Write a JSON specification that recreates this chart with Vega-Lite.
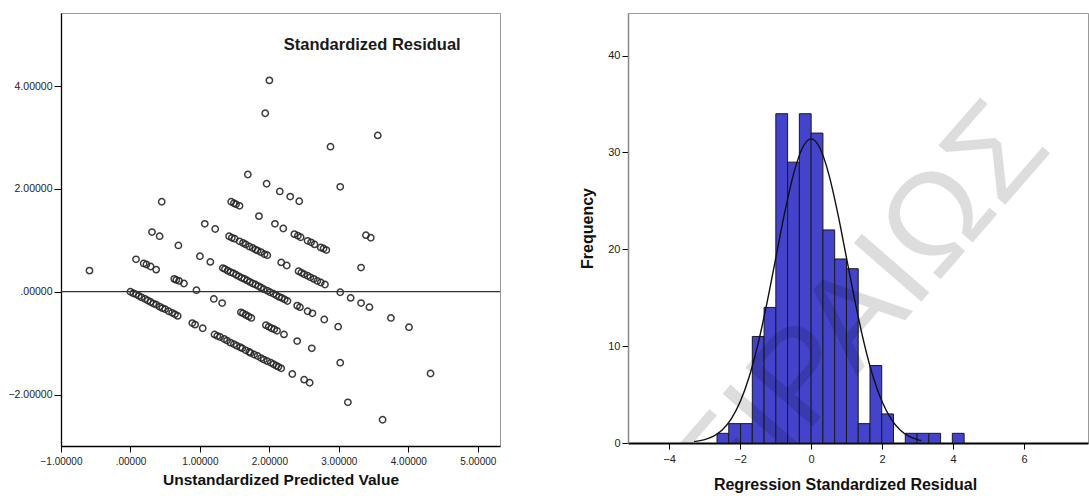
{
  "$schema": "https://vega.github.io/schema/vega-lite/v6.json",
  "padding": {"left": 0, "top": 12, "right": 0, "bottom": 0},
  "autosize": {"type": "pad"},
  "background": "white",
  "bounds": "flush",
  "spacing": 128,
  "config": {
    "font": "Liberation Sans",
    "view": {"stroke": "#999", "strokeWidth": 1},
    "axis": {"grid": false, "labelFont": "Liberation Sans", "titleFont": "Liberation Sans", "labelColor": "#222", "titleColor": "#111", "domainColor": "#000", "tickColor": "#000", "labelFlush": false, "labelOverlap": false}
  },
  "hconcat": [
    {
      "width": 439,
      "height": 433,
      "layer": [
        {
          "data": {"values": [
            {"pred": -0.59, "res": 0.41}, {"pred": 0.00, "res": 0.00}, {"pred": 0.04, "res": -0.03}, {"pred": 0.08, "res": -0.05}, {"pred": 0.12, "res": -0.08}, {"pred": 0.16, "res": -0.11}, {"pred": 0.21, "res": -0.14}, {"pred": 0.25, "res": -0.17}, {"pred": 0.29, "res": -0.20}, {"pred": 0.33, "res": -0.23}, {"pred": 0.37, "res": -0.25}, {"pred": 0.42, "res": -0.29}, {"pred": 0.46, "res": -0.32}, {"pred": 0.50, "res": -0.34}, {"pred": 0.55, "res": -0.38}, {"pred": 0.60, "res": -0.41}, {"pred": 0.64, "res": -0.44}, {"pred": 0.68, "res": -0.47}, {"pred": 0.89, "res": -0.61}, {"pred": 0.93, "res": -0.64}, {"pred": 1.04, "res": -0.71}, {"pred": 1.21, "res": -0.83}, {"pred": 1.25, "res": -0.86}, {"pred": 1.29, "res": -0.88}, {"pred": 1.35, "res": -0.92}, {"pred": 1.39, "res": -0.95}, {"pred": 1.44, "res": -0.99}, {"pred": 1.49, "res": -1.02}, {"pred": 1.53, "res": -1.05}, {"pred": 1.58, "res": -1.08}, {"pred": 1.61, "res": -1.10}, {"pred": 1.66, "res": -1.14}, {"pred": 1.71, "res": -1.17}, {"pred": 1.73, "res": -1.19}, {"pred": 1.78, "res": -1.22}, {"pred": 1.83, "res": -1.25}, {"pred": 1.88, "res": -1.29}, {"pred": 1.92, "res": -1.32}, {"pred": 1.97, "res": -1.35}, {"pred": 2.02, "res": -1.38}, {"pred": 2.06, "res": -1.41}, {"pred": 2.10, "res": -1.44}, {"pred": 2.13, "res": -1.46}, {"pred": 2.17, "res": -1.49}, {"pred": 2.33, "res": -1.60}, {"pred": 2.50, "res": -1.71}, {"pred": 2.58, "res": -1.77}, {"pred": 3.13, "res": -2.15}, {"pred": 3.63, "res": -2.49},
            {"pred": 0.08, "res": 0.63}, {"pred": 0.19, "res": 0.55}, {"pred": 0.23, "res": 0.53}, {"pred": 0.29, "res": 0.49}, {"pred": 0.37, "res": 0.43}, {"pred": 0.63, "res": 0.25}, {"pred": 0.66, "res": 0.23}, {"pred": 0.70, "res": 0.21}, {"pred": 0.77, "res": 0.16}, {"pred": 0.95, "res": 0.03}, {"pred": 1.20, "res": -0.14}, {"pred": 1.32, "res": -0.22}, {"pred": 1.59, "res": -0.40}, {"pred": 1.62, "res": -0.42}, {"pred": 1.66, "res": -0.45}, {"pred": 1.70, "res": -0.48}, {"pred": 1.74, "res": -0.51}, {"pred": 1.95, "res": -0.65}, {"pred": 1.99, "res": -0.68}, {"pred": 2.03, "res": -0.71}, {"pred": 2.07, "res": -0.73}, {"pred": 2.11, "res": -0.76}, {"pred": 2.21, "res": -0.83}, {"pred": 2.40, "res": -0.96}, {"pred": 2.61, "res": -1.10}, {"pred": 3.02, "res": -1.38},
            {"pred": 0.31, "res": 1.16}, {"pred": 0.42, "res": 1.08}, {"pred": 0.69, "res": 0.90}, {"pred": 1.00, "res": 0.69}, {"pred": 1.15, "res": 0.58}, {"pred": 1.33, "res": 0.46}, {"pred": 1.36, "res": 0.44}, {"pred": 1.40, "res": 0.41}, {"pred": 1.44, "res": 0.38}, {"pred": 1.48, "res": 0.36}, {"pred": 1.52, "res": 0.33}, {"pred": 1.56, "res": 0.30}, {"pred": 1.60, "res": 0.27}, {"pred": 1.64, "res": 0.25}, {"pred": 1.68, "res": 0.22}, {"pred": 1.72, "res": 0.19}, {"pred": 1.76, "res": 0.16}, {"pred": 1.80, "res": 0.14}, {"pred": 1.84, "res": 0.11}, {"pred": 1.88, "res": 0.08}, {"pred": 1.92, "res": 0.05}, {"pred": 1.97, "res": 0.02}, {"pred": 2.01, "res": -0.01}, {"pred": 2.06, "res": -0.04}, {"pred": 2.10, "res": -0.07}, {"pred": 2.14, "res": -0.10}, {"pred": 2.18, "res": -0.12}, {"pred": 2.22, "res": -0.15}, {"pred": 2.26, "res": -0.18}, {"pred": 2.40, "res": -0.27}, {"pred": 2.44, "res": -0.30}, {"pred": 2.55, "res": -0.38}, {"pred": 2.62, "res": -0.42}, {"pred": 2.79, "res": -0.54}, {"pred": 2.99, "res": -0.68}, {"pred": 4.32, "res": -1.59},
            {"pred": 0.45, "res": 1.75}, {"pred": 1.07, "res": 1.32}, {"pred": 1.22, "res": 1.22}, {"pred": 1.42, "res": 1.08}, {"pred": 1.46, "res": 1.05}, {"pred": 1.50, "res": 1.03}, {"pred": 1.57, "res": 0.98}, {"pred": 1.62, "res": 0.95}, {"pred": 1.66, "res": 0.92}, {"pred": 1.71, "res": 0.88}, {"pred": 1.76, "res": 0.85}, {"pred": 1.80, "res": 0.82}, {"pred": 1.83, "res": 0.80}, {"pred": 1.88, "res": 0.77}, {"pred": 1.93, "res": 0.73}, {"pred": 1.97, "res": 0.71}, {"pred": 2.17, "res": 0.57}, {"pred": 2.25, "res": 0.51}, {"pred": 2.42, "res": 0.40}, {"pred": 2.46, "res": 0.37}, {"pred": 2.50, "res": 0.34}, {"pred": 2.55, "res": 0.31}, {"pred": 2.59, "res": 0.28}, {"pred": 2.64, "res": 0.25}, {"pred": 2.69, "res": 0.21}, {"pred": 2.74, "res": 0.18}, {"pred": 2.80, "res": 0.14}, {"pred": 3.02, "res": -0.01}, {"pred": 3.17, "res": -0.12}, {"pred": 3.32, "res": -0.22}, {"pred": 3.44, "res": -0.30}, {"pred": 3.75, "res": -0.51}, {"pred": 4.01, "res": -0.69},
            {"pred": 1.45, "res": 1.75}, {"pred": 1.49, "res": 1.72}, {"pred": 1.52, "res": 1.70}, {"pred": 1.57, "res": 1.67}, {"pred": 1.85, "res": 1.47}, {"pred": 2.08, "res": 1.32}, {"pred": 2.20, "res": 1.23}, {"pred": 2.36, "res": 1.12}, {"pred": 2.41, "res": 1.09}, {"pred": 2.45, "res": 1.06}, {"pred": 2.55, "res": 0.99}, {"pred": 2.60, "res": 0.96}, {"pred": 2.65, "res": 0.92}, {"pred": 2.74, "res": 0.86}, {"pred": 2.78, "res": 0.84}, {"pred": 2.82, "res": 0.81}, {"pred": 3.32, "res": 0.47},
            {"pred": 1.69, "res": 2.28}, {"pred": 1.96, "res": 2.10}, {"pred": 2.15, "res": 1.95}, {"pred": 2.30, "res": 1.85}, {"pred": 2.43, "res": 1.76}, {"pred": 3.39, "res": 1.10}, {"pred": 3.46, "res": 1.05},
            {"pred": 3.02, "res": 2.04},
            {"pred": 1.94, "res": 3.47}, {"pred": 2.88, "res": 2.82},
            {"pred": 2.00, "res": 4.11}, {"pred": 3.56, "res": 3.04}
          ]},
          "mark": {"type": "point", "shape": "circle", "filled": false, "size": 40, "strokeWidth": 1.5, "color": "#262626", "opacity": 0.9},
          "encoding": {
            "x": {"field": "pred", "type": "quantitative", "title": "Unstandardized Predicted Value",
                  "scale": {"domain": [-1, 5.32], "nice": false, "zero": false},
                  "axis": {"values": [-1, 0, 1, 2, 3, 4, 5], "labelExpr": "datum.value == 0 ? '.00000' : format(datum.value, '.5f')", "tickSize": 6, "labelFontSize": 10, "labelPadding": 4, "titleFontSize": 15.5, "titleFontWeight": "bold", "titlePadding": 6, "domainWidth": 1.3}},
            "y": {"field": "res", "type": "quantitative", "title": null,
                  "scale": {"domain": [-3.0, 5.42], "nice": false, "zero": false},
                  "axis": {"values": [-2, 0, 2, 4], "labelExpr": "datum.value == 0 ? '.00000' : format(datum.value, '.5f')", "tickSize": 7, "labelFontSize": 10.5, "labelPadding": 2, "minExtent": 60, "domainWidth": 1.3}}
          }
        },
        {
          "data": {"values": [{}]},
          "mark": {"type": "rule", "color": "#333", "strokeWidth": 1.2},
          "encoding": {"y": {"datum": 0, "type": "quantitative"}}
        },
        {
          "data": {"values": [{}]},
          "mark": {"type": "text", "text": "Standardized Residual", "fontSize": 16.5, "fontWeight": "bold", "font": "Liberation Sans", "color": "#1a1a1a", "align": "center", "baseline": "middle"},
          "encoding": {"x": {"datum": 3.48, "type": "quantitative"}, "y": {"datum": 4.80, "type": "quantitative"}}
        }
      ]
    },
    {
      "width": 460,
      "height": 430,
      "layer": [
        {
          "data": {"values": [
            {"lo": -2.652, "hi": -2.321, "n": 1}, {"lo": -2.321, "hi": -1.989, "n": 2}, {"lo": -1.989, "hi": -1.658, "n": 2}, {"lo": -1.658, "hi": -1.326, "n": 11}, {"lo": -1.326, "hi": -0.995, "n": 14}, {"lo": -0.995, "hi": -0.663, "n": 34}, {"lo": -0.663, "hi": -0.332, "n": 29}, {"lo": -0.332, "hi": 0.0, "n": 34}, {"lo": 0.0, "hi": 0.332, "n": 32}, {"lo": 0.332, "hi": 0.663, "n": 22}, {"lo": 0.663, "hi": 0.995, "n": 19}, {"lo": 0.995, "hi": 1.326, "n": 18}, {"lo": 1.326, "hi": 1.658, "n": 2}, {"lo": 1.658, "hi": 1.989, "n": 8}, {"lo": 1.989, "hi": 2.321, "n": 3}, {"lo": 2.652, "hi": 2.984, "n": 1}, {"lo": 2.984, "hi": 3.315, "n": 1}, {"lo": 3.315, "hi": 3.647, "n": 1}, {"lo": 3.978, "hi": 4.310, "n": 1}
          ]},
          "mark": {"type": "rect", "color": "#4343cc", "stroke": "#1a1a1a", "strokeWidth": 1},
          "encoding": {
            "x": {"field": "lo", "type": "quantitative", "title": "Regression Standardized Residual",
                  "scale": {"domain": [-5.16, 7.80], "nice": false, "zero": false},
                  "axis": {"values": [-4, -2, 0, 2, 4, 6], "tickSize": 6, "labelFontSize": 11, "labelPadding": 4, "titleFontSize": 16, "titleFontWeight": "bold", "titlePadding": 12, "titleX": 217, "domainWidth": 2}},
            "x2": {"field": "hi"},
            "y": {"field": "n", "type": "quantitative", "title": "Frequency",
                  "scale": {"domain": [0, 44.4], "nice": false, "zero": false},
                  "axis": {"values": [0, 10, 20, 30, 40], "tickSize": 6, "labelFontSize": 11, "labelPadding": 2, "titleFontSize": 16, "titleFontWeight": "bold", "titlePadding": 12, "domainColor": "#888", "domainWidth": 1.5}},
            "y2": {"datum": 0}
          }
        },
        {
          "data": {"values": [
            {"z": -3.3, "f": 0.14}, {"z": -3.0, "f": 0.35}, {"z": -2.75, "f": 0.71}, {"z": -2.5, "f": 1.38}, {"z": -2.25, "f": 2.50}, {"z": -2.0, "f": 4.25}, {"z": -1.75, "f": 6.79}, {"z": -1.5, "f": 10.19}, {"z": -1.25, "f": 14.37}, {"z": -1.0, "f": 19.04}, {"z": -0.75, "f": 23.70}, {"z": -0.5, "f": 27.71}, {"z": -0.25, "f": 30.43}, {"z": 0.0, "f": 31.40}, {"z": 0.25, "f": 30.43}, {"z": 0.5, "f": 27.71}, {"z": 0.75, "f": 23.70}, {"z": 1.0, "f": 19.04}, {"z": 1.25, "f": 14.37}, {"z": 1.5, "f": 10.19}, {"z": 1.75, "f": 6.79}, {"z": 2.0, "f": 4.25}, {"z": 2.25, "f": 2.50}, {"z": 2.5, "f": 1.38}, {"z": 2.75, "f": 0.71}, {"z": 3.0, "f": 0.35}, {"z": 3.1, "f": 0.26}
          ]},
          "mark": {"type": "line", "color": "#111", "strokeWidth": 1.4, "interpolate": "monotone"},
          "encoding": {
            "x": {"field": "z", "type": "quantitative", "title": "Regression Standardized Residual"},
            "y": {"field": "f", "type": "quantitative", "title": "Frequency"}
          }
        },
        {
          "data": {"values": [{}]},
          "mark": {"type": "text", "text": "ΠΕΙΡΑΙΩΣ", "fontSize": 130, "font": "Liberation Sans", "angle": -49, "color": "#000", "opacity": 0.13, "clip": true, "align": "center", "baseline": "middle"},
          "encoding": {"x": {"datum": 0.51, "type": "quantitative"}, "y": {"datum": 9.8, "type": "quantitative"}}
        }
      ]
    }
  ]
}
